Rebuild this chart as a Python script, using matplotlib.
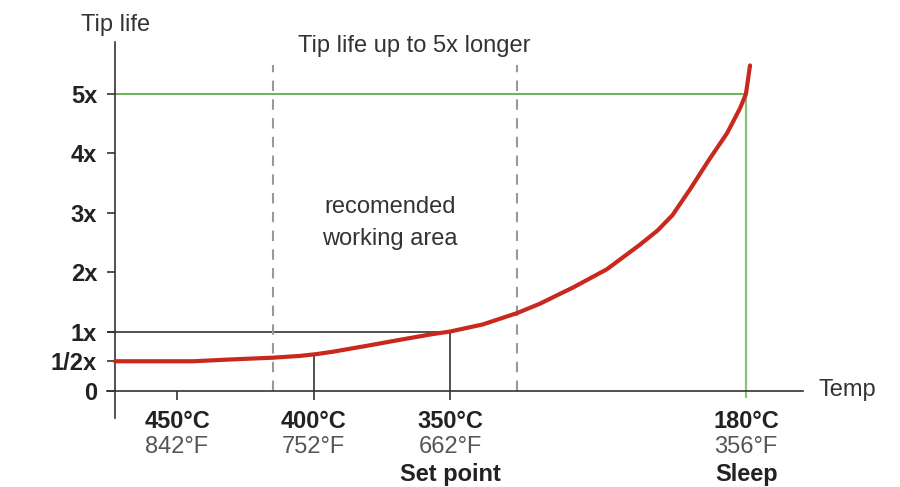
import matplotlib
matplotlib.use("Agg")
import matplotlib.pyplot as plt
import numpy as np

# === DATA ===
# x is a schematic temperature position: 450C -> 1, 400C -> 2, 350C -> 3, 180C -> 5.17
temp_c = ["450°C", "400°C", "350°C", "180°C"]
temp_f = ["842°F", "752°F", "662°F", "356°F"]
temp_note = ["", "", "Set point", "Sleep"]
temp_pos = [1.0, 2.0, 3.0, 5.17]

y_ticks = [0, 0.5, 1, 2, 3, 4, 5]
y_labels = ["0", "1/2x", "1x", "2x", "3x", "4x", "5x"]

curve_x = [0.546, 0.80, 1.12, 1.39, 1.70, 1.90, 2.02, 2.14, 2.39, 2.63, 2.88,
           3.00, 3.24, 3.49, 3.66, 3.81, 3.90, 4.15, 4.39, 4.52, 4.63, 4.76,
           4.90, 5.03, 5.125, 5.168, 5.198]
curve_y = [0.50, 0.50, 0.50, 0.53, 0.56, 0.59, 0.62, 0.66, 0.76, 0.86, 0.96,
           1.00, 1.12, 1.31, 1.47, 1.64, 1.74, 2.05, 2.46, 2.70, 2.96, 3.40,
           3.90, 4.34, 4.76, 5.00, 5.48]

work_area = [1.70, 3.49]   # dashed borders of the recommended area

RED = "#c8281e"
GREEN = "#6db35a"
DARK = "#222222"
TXT = "#333333"
GREY = "#555555"

plt.rcParams["font.family"] = ["Liberation Sans", "DejaVu Sans"]
FS = 17

fig = plt.figure(figsize=(9, 4.87), dpi=100)
ax = fig.add_axes([0.1189, 0.1417, 0.7733, 0.7721])

x_left, x_right = 0.487, 5.586
y_bot, y_top = -0.455, 5.875
ax.set_xlim(x_left, x_right)
ax.set_ylim(y_bot, y_top)

for s in ["top", "right"]:
    ax.spines[s].set_visible(False)
ax.spines["left"].set_position(("data", 0.546))
ax.spines["left"].set_bounds(y_bot, y_top)
ax.spines["bottom"].set_position(("data", 0))
ax.spines["bottom"].set_bounds(x_left, x_right)
for s in ["left", "bottom"]:
    ax.spines[s].set_color(TXT)
    ax.spines[s].set_linewidth(1.2)

ax.set_yticks(y_ticks)
ax.set_yticklabels(y_labels, fontsize=FS, fontweight="bold", color=DARK)
ax.tick_params(axis="y", length=6, width=1.2, color=TXT, pad=7)
ax.set_xticks([])

# reference lines
y400 = np.interp(temp_pos[1], curve_x, curve_y)
ax.hlines(1, x_left, temp_pos[2], color=TXT, lw=1.2, zorder=2)
ax.vlines(temp_pos[0], -0.15, 0, color=TXT, lw=1.2, clip_on=False)
ax.vlines(temp_pos[1], -0.15, y400, color=TXT, lw=1.2, clip_on=False)
ax.vlines(temp_pos[2], -0.15, 1, color=TXT, lw=1.2, clip_on=False)
ax.hlines(5, 0.546, temp_pos[3], color=GREEN, lw=1.4, zorder=2)
ax.vlines(temp_pos[3], -0.12, 5, color=GREEN, lw=1.6, alpha=0.8, clip_on=False)
for xd in work_area:
    ax.vlines(xd, 0, 5.49, color="#999999", lw=1.5, linestyles=(0, (5, 4)))

# curve
ax.plot(curve_x, curve_y, color=RED, lw=3, solid_capstyle="round",
        solid_joinstyle="round", zorder=3)

# texts
ax.text(0.546, 6.16, "Tip life", ha="center", va="center", fontsize=FS,
        color=TXT, clip_on=False)
ax.text(5.70, 0.02, "Temp", ha="left", va="center", fontsize=FS,
        color=TXT, clip_on=False)
ax.text(2.74, 5.80, "Tip life up to 5x longer", ha="center", va="center",
        fontsize=FS, color=TXT)
ax.text(2.56, 3.10, "recomended", ha="center", va="center", fontsize=FS,
        color=TXT)
ax.text(2.56, 2.56, "working area", ha="center", va="center", fontsize=FS,
        color=TXT)

for xp, c, f, n in zip(temp_pos, temp_c, temp_f, temp_note):
    ax.text(xp, -0.52, c, ha="center", va="center", fontsize=FS,
            fontweight="bold", color=DARK, clip_on=False)
    ax.text(xp, -0.95, f, ha="center", va="center", fontsize=FS,
            color=GREY, clip_on=False)
    if n:
        ax.text(xp, -1.40, n, ha="center", va="center", fontsize=FS,
                fontweight="bold", color=DARK, clip_on=False)

fig.savefig("out.png", dpi=100)
